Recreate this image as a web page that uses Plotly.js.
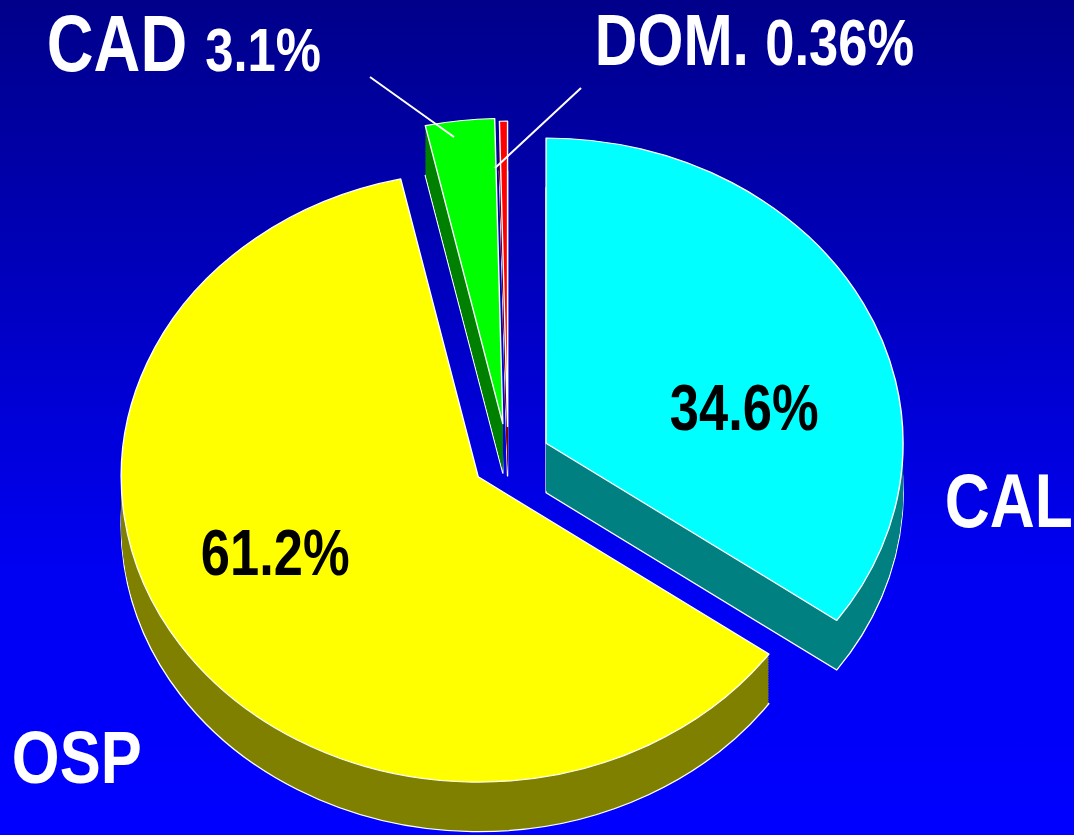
<!DOCTYPE html>
<html><head><meta charset="utf-8">
<script src="https://cdn.plot.ly/plotly-3.0.1.min.js"></script>
<style>
html,body{margin:0;padding:0;width:1074px;height:835px;overflow:hidden;
background:linear-gradient(to bottom,#00008a 0%,#0000b4 28%,#0000d8 50%,#0000f2 68%,#0000ff 100%);}
#chart{width:1074px;height:1010px;}
</style></head><body><div id="chart"></div>
<script>
// ---- data ----
const categories = ['CAL', 'OSP', 'CAD', 'DOM.'];
const shares = [34.6, 61.2, 3.1, 0.36];
const shareLabels = ['34.6%', '61.2%', '3.1%', '0.36%'];
const pulls = [0.12, 0.10, 0.12, 0.11];
const topColors = ['#00FFFF', '#FFFF00', '#00FF00', '#FF0000'];
const sideColors = ['#008080', '#808000', '#008000', '#800000'];

// ---- geometry / style ----
const W = 1074, H = 1010;
const TILT = 0.855;                  // vertical squash of the pie (perspective)
const R = 357, CX = 508, CY = 460 / TILT, DEPTH = 58, STEP = 2;
const maxPull = Math.max(...pulls);
const box = R * (2 + 2 * maxPull);
const px = v => v / W;
const py = v => 1 - v / H;
function domainAt(off) {
  const cy = CY + off;
  return { x: [px(CX - box / 2), px(CX + box / 2)], y: [py(cy + box / 2), py(cy - box / 2)] };
}
function pieLayer(off, colors, lineW) {
  return {
    type: 'pie', values: shares, labels: categories, pull: pulls,
    sort: false, direction: 'clockwise', rotation: 0,
    domain: domainAt(off), textinfo: 'none', hoverinfo: 'skip', showlegend: false,
    marker: { colors: colors, line: { color: '#FFFFFF', width: lineW } }
  };
}
const traces = [];
for (let off = DEPTH; off > 0; off -= STEP) {
  traces.push(pieLayer(off, sideColors, off === DEPTH ? 1.4 : 0));
}
traces.push(pieLayer(0, topColors, 1.4));

const fontFam = "'Liberation Sans', Arial, sans-serif";
const NARROW = 0.82;
const annX = [];
function ann(text, x, y, size, color) {
  annX.push(x);
  return { text: text, x: px(x), y: py(y), xref: 'paper', yref: 'paper', xanchor: 'left', yanchor: 'middle',
    borderpad: 0, showarrow: false, font: { family: fontFam, size: size, color: color, weight: 700 } };
}
const annotations = [
  ann(categories[2] + ' <span style="font-size:62px">' + shareLabels[2] + '</span>', 46, 43, 79, '#FFFFFF'),
  ann(categories[3] + ' <span style="font-size:64px">' + shareLabels[3] + '</span>', 594, 40, 72, '#FFFFFF'),
  ann(categories[0], 944, 500, 76, '#FFFFFF'),
  ann(categories[1], 11, 757, 75, '#FFFFFF'),
  ann(shareLabels[0], 669, 408, 64, '#000000'),
  ann(shareLabels[1], 200, 553, 64, '#000000')
];
const shapes = [
  { type: 'line', xref: 'paper', yref: 'paper', x0: px(370), y0: py(77), x1: px(454), y1: py(137), line: { color: '#FFFFFF', width: 2 } },
  { type: 'line', xref: 'paper', yref: 'paper', x0: px(581), y0: py(88), x1: px(495), y1: py(168), line: { color: '#FFFFFF', width: 2 } }
];
Plotly.newPlot('chart', traces, {
  width: W, height: H, margin: { l: 0, r: 0, t: 0, b: 0 },
  paper_bgcolor: 'rgba(0,0,0,0)', plot_bgcolor: 'rgba(0,0,0,0)',
  showlegend: false, annotations: annotations, shapes: shapes
}, { staticPlot: true, displayModeBar: false }).then(function () {
  // tilt the pie stack (perspective ellipse)
  const pl = document.querySelector('#chart g.pielayer');
  if (pl) pl.setAttribute('transform', 'scale(1,' + TILT + ')');
  // condense the bold labels horizontally (narrow bold face look)
  document.querySelectorAll('#chart g.annotation').forEach(function (g) {
    const i = +g.getAttribute('data-index');
    const tg = g.querySelector('g.annotation-text-g');
    if (!tg || isNaN(i)) return;
    const x0 = annX[i];
    const prev = tg.getAttribute('transform') || '';
    tg.setAttribute('transform', prev + ' translate(' + x0 + ',0) scale(' + NARROW + ',1) translate(' + (-x0) + ',0)');
  });
});
</script></body></html>
